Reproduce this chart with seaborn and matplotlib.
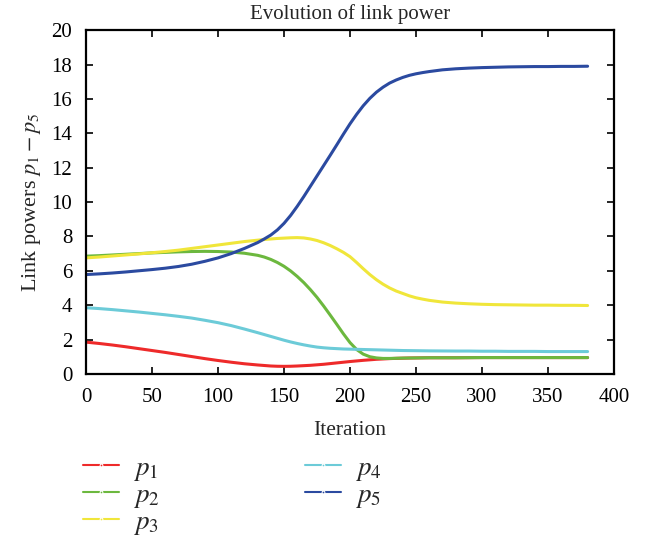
import matplotlib
matplotlib.use("Agg")
import matplotlib.pyplot as plt
import seaborn as sns
import pandas as pd

iterations = [0, 10, 20, 30, 40, 50, 60, 70, 80, 90, 100, 110, 120,
              130, 135, 140, 145, 150, 155, 160, 165, 170, 175, 180, 185,
              190, 195, 200, 205, 210, 215, 220, 225, 230, 235, 240, 245,
              250, 255, 260, 270, 280, 290, 300, 310, 320, 330, 340, 350,
              360, 370, 380]

p1 = [1.85, 1.77, 1.68, 1.58, 1.47, 1.36, 1.25, 1.13, 1.01, 0.89, 0.78, 0.68, 0.59,
      0.52, 0.49, 0.46, 0.445, 0.44, 0.445, 0.46, 0.48, 0.50, 0.53, 0.56, 0.60,
      0.64, 0.68, 0.72, 0.755, 0.79, 0.82, 0.85, 0.87, 0.89, 0.905, 0.915, 0.925,
      0.93, 0.935, 0.94, 0.94, 0.94, 0.945, 0.95, 0.95, 0.95, 0.95, 0.95, 0.95,
      0.95, 0.95, 0.95]
p2 = [6.85, 6.88, 6.92, 6.96, 7.00, 7.04, 7.07, 7.10, 7.12, 7.13, 7.12, 7.09, 7.02,
      6.90, 6.80, 6.66, 6.48, 6.26, 5.99, 5.67, 5.31, 4.90, 4.45, 3.95, 3.42,
      2.88, 2.33, 1.82, 1.42, 1.15, 1.00, 0.93, 0.90, 0.90, 0.91, 0.92, 0.925,
      0.93, 0.935, 0.94, 0.94, 0.94, 0.945, 0.95, 0.95, 0.95, 0.95, 0.95, 0.95,
      0.95, 0.95, 0.95]
p3 = [6.75, 6.80, 6.86, 6.92, 6.98, 7.05, 7.12, 7.20, 7.30, 7.40, 7.50, 7.60, 7.70,
      7.78, 7.82, 7.85, 7.88, 7.90, 7.92, 7.93, 7.91, 7.85, 7.76, 7.63, 7.47,
      7.28, 7.07, 6.82, 6.48, 6.12, 5.78, 5.48, 5.22, 5.00, 4.82, 4.68, 4.54,
      4.43, 4.35, 4.28, 4.18, 4.12, 4.08, 4.05, 4.03, 4.02, 4.01, 4.00, 4.00,
      3.99, 3.99, 3.98]
p4 = [3.85, 3.80, 3.74, 3.67, 3.60, 3.52, 3.44, 3.35, 3.25, 3.12, 2.98, 2.81, 2.61,
      2.40, 2.29, 2.18, 2.07, 1.96, 1.86, 1.77, 1.69, 1.62, 1.56, 1.52, 1.49,
      1.47, 1.45, 1.44, 1.43, 1.42, 1.41, 1.40, 1.39, 1.38, 1.37, 1.36, 1.355,
      1.35, 1.345, 1.34, 1.335, 1.33, 1.33, 1.32, 1.32, 1.31, 1.31, 1.31, 1.30,
      1.30, 1.30, 1.30]
p5 = [5.78, 5.82, 5.87, 5.93, 6.00, 6.07, 6.15, 6.25, 6.38, 6.55, 6.75, 7.00, 7.30,
      7.64, 7.85, 8.08, 8.38, 8.76, 9.22, 9.75, 10.32, 10.92, 11.52, 12.12, 12.72,
      13.33, 13.95, 14.55, 15.10, 15.60, 16.03, 16.39, 16.68, 16.92, 17.10, 17.25, 17.37,
      17.46, 17.53, 17.59, 17.69, 17.75, 17.79, 17.82, 17.84, 17.86, 17.87, 17.88, 17.88,
      17.89, 17.89, 17.90]

series_names = ["$p_1$", "$p_2$", "$p_3$", "$p_4$", "$p_5$"]
series_values = [p1, p2, p3, p4, p5]
colors = ["#ee2a2a", "#6cb83e", "#f0e63a", "#6ccbd8", "#2b4aa0"]

x_ticks = [0, 50, 100, 150, 200, 250, 300, 350, 400]
y_ticks = [0, 2, 4, 6, 8, 10, 12, 14, 16, 18, 20]

df = pd.concat([
    pd.DataFrame({"Iteration": iterations, "value": vals, "series": name})
    for name, vals in zip(series_names, series_values)
], ignore_index=True)

sns.set_theme(style="ticks")
plt.rcParams["font.family"] = ["Liberation Serif", "DejaVu Serif"]
plt.rcParams["mathtext.fontset"] = "stix"

fig = plt.figure(figsize=(6.47, 5.38), dpi=100)
ax = fig.add_axes([0.133, 0.305, 0.816, 0.639])

sns.lineplot(data=df, x="Iteration", y="value", hue="series",
             palette=dict(zip(series_names, colors)), linewidth=2.2,
             ax=ax, legend=True)

ax.set_xlim(0, 400)
ax.set_ylim(0, 20)
ax.set_xticks(x_ticks)
ax.set_yticks(y_ticks)
ax.tick_params(direction="in", top=True, right=True, labelsize=15,
               length=5, width=1.2, colors="black", pad=10)
for s in ax.spines.values():
    s.set_linewidth(1.6)
    s.set_color("black")
    s.set_visible(True)

ax.set_title("Evolution of link power", fontsize=15, pad=8)
ax.set_xlabel("Iteration", fontsize=15.5, labelpad=10)
ax.set_ylabel("Link powers $p_1 - p_5$", fontsize=16, labelpad=6)

handles, labels = ax.get_legend_handles_labels()
ax.get_legend().remove()
for h in handles:
    h.set_marker(".")
    h.set_markersize(4)
    h.set_linewidth(1.5)
fig.legend(handles, labels, ncol=2, loc="upper left",
           bbox_to_anchor=(0.128, 0.153), bbox_transform=fig.transFigure,
           frameon=False, fontsize=19.5, handlelength=1.35, handletextpad=0.5,
           columnspacing=5.35, labelspacing=0.0, borderaxespad=0,
           borderpad=0)

fig.savefig("out.png", dpi=100, facecolor="white")
